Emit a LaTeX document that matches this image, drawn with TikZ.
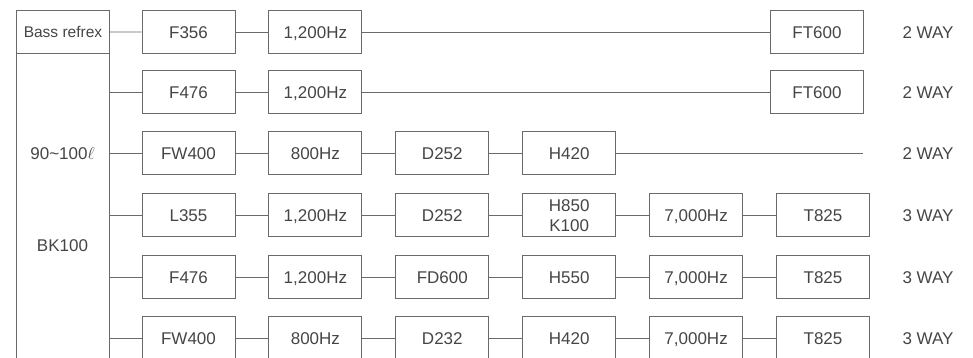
\documentclass[tikz,border=0pt]{standalone}
\usepackage{fontspec}
\setmainfont{Liberation Sans}
\usetikzlibrary{positioning}
\definecolor{textgray}{HTML}{454545}
\definecolor{linegray}{HTML}{6A6A6A}

\begin{document}
\begin{tikzpicture}[
  x=1pt, y=1pt,
  font=\fontsize{17}{20}\selectfont,
  node distance=33pt,
  unit/.style={
    rectangle, draw=linegray, line width=0.9pt, text=textgray,
    minimum width=93pt, minimum height=43pt, inner sep=2pt, align=center,
    text height=12.2pt, text depth=0pt
  },
  note/.style={text=textgray, inner sep=1pt, text height=12.2pt, text depth=0pt},
  link/.style={draw=linegray, line width=0.9pt},
]
\useasboundingbox (0,0) rectangle (973,357);
\clip (0,0) rectangle (973,357);

% enclosure column on the left (runs off the bottom edge)
\node[unit, anchor=north west, minimum height=400pt] (cab) at (16,347) {};
\node[unit, anchor=north west, font=\fontsize{15.5}{18}\selectfont, text height=11.1pt] (bass) at (16,347) {Bass refrex};
\node[note] (vol) at (62.5,204) {90\textasciitilde100$\ell$};
\node[note] (bk) at (62.5,112) {BK100};

% row 1
\node[unit] (r1a) at (188.5,325) {F356};
\node[unit, right=of r1a] (r1b) {1,200Hz};
\node[unit] (r1f) at (817,325) {FT600};
\node[note] (way1) at (928,325) {2 WAY};

% row 2
\node[unit] (r2a) at (188.5,265) {F476};
\node[unit, right=of r2a] (r2b) {1,200Hz};
\node[unit] (r2f) at (817,265) {FT600};
\node[note] (way2) at (928,265) {2 WAY};

% row 3
\node[unit] (r3a) at (188.5,204) {FW400};
\node[unit, right=of r3a] (r3b) {800Hz};
\node[unit, right=of r3b] (r3c) {D252};
\node[unit, right=of r3c] (r3d) {H420};
\coordinate (r3end) at (863,204);
\node[note] (way3) at (928,204) {2 WAY};

% row 4
\node[unit] (r4a) at (188.5,142) {L355};
\node[unit, right=of r4a] (r4b) {1,200Hz};
\node[unit, right=of r4b] (r4c) {D252};
\node[unit, right=of r4c, text height=32.2pt] (r4d) {H850\\K100};
\node[unit, right=of r4d] (r4e) {7,000Hz};
\node[unit, right=of r4e] (r4f) {T825};
\node[note] (way4) at (928,142) {3 WAY};

% row 5
\node[unit] (r5a) at (188.5,80) {F476};
\node[unit, right=of r5a] (r5b) {1,200Hz};
\node[unit, right=of r5b] (r5c) {FD600};
\node[unit, right=of r5c] (r5d) {H550};
\node[unit, right=of r5d] (r5e) {7,000Hz};
\node[unit, right=of r5e] (r5f) {T825};
\node[note] (way5) at (928,80) {3 WAY};

% row 6
\node[unit] (r6a) at (188.5,19) {FW400};
\node[unit, right=of r6a] (r6b) {800Hz};
\node[unit, right=of r6b] (r6c) {D232};
\node[unit, right=of r6c] (r6d) {H420};
\node[unit, right=of r6d] (r6e) {7,000Hz};
\node[unit, right=of r6e] (r6f) {T825};
\node[note] (way6) at (928,19) {3 WAY};

% connections
\draw[link] (bass) -- (r1a);
\draw[link] (r1a) -- (r1b);
\draw[link] (r1b) -- (r1f);
\draw[link] (cab.east |- r2a) -- (r2a);
\draw[link] (r2a) -- (r2b);
\draw[link] (r2b) -- (r2f);
\draw[link] (cab.east |- r3a) -- (r3a);
\draw[link] (r3a) -- (r3b);
\draw[link] (r3b) -- (r3c);
\draw[link] (r3c) -- (r3d);
\draw[link] (r3d) -- (r3end);
\foreach \r in {4,5,6} {
  \draw[link] (cab.east |- r\r a) -- (r\r a);
  \draw[link] (r\r a) -- (r\r b);
  \draw[link] (r\r b) -- (r\r c);
  \draw[link] (r\r c) -- (r\r d);
  \draw[link] (r\r d) -- (r\r e);
  \draw[link] (r\r e) -- (r\r f);
}

\end{tikzpicture}
\end{document}
